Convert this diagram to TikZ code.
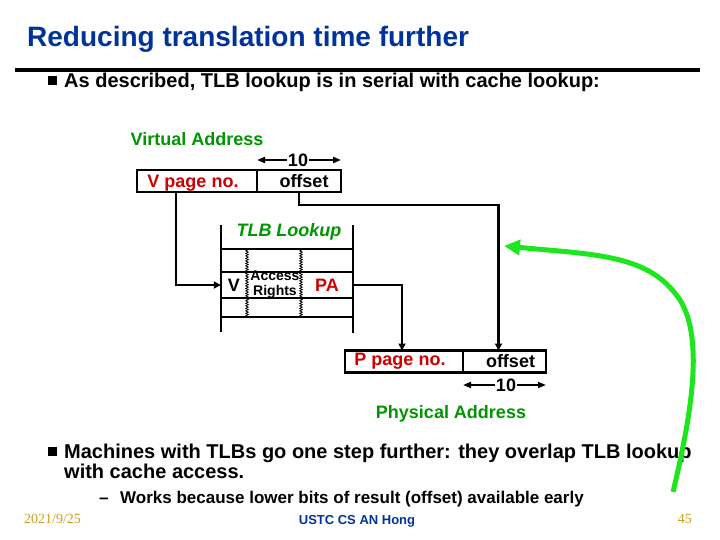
\documentclass[tikz,border=0pt]{standalone}
\usepackage{fontspec}
\setmainfont{Liberation Sans}
\newfontfamily\serifdate{Liberation Serif}
\usetikzlibrary{arrows.meta, positioning, decorations.pathmorphing}

\definecolor{titleblue}{RGB}{0,51,153}
\definecolor{labelgreen}{RGB}{0,150,0}
\definecolor{fieldred}{RGB}{204,0,0}
\definecolor{arrowgreen}{RGB}{30,230,30}
\definecolor{dategold}{RGB}{204,160,30}

\begin{document}
\begin{tikzpicture}[x=1pt, y=-1pt,
    field/.style={rectangle, draw=black, line width=2.4pt, outer sep=0pt, minimum height=22pt, inner sep=0pt, font=\fontsize{18}{18}\selectfont\bfseries},
    cell/.style={rectangle, inner sep=0pt, minimum height=26pt, font=\fontsize{18}{18}\selectfont\bfseries},
    tlbline/.style={line width=2.4pt},
    hatch/.style={decorate, decoration={zigzag, segment length=2.5pt, amplitude=1.3pt}, line width=0.7pt},
    line/.style={draw=black, line width=2.4pt, -{Triangle[length=7pt, width=7pt]}},
    dim/.style={draw=black, line width=1.8pt, -{Triangle[length=8pt, width=6pt]}},
    greenarrow/.style={draw=arrowgreen, line width=5pt, -{Triangle[length=16pt, width=15pt]}},
    label/.style={font=\fontsize{18}{18}\selectfont\bfseries, text=labelgreen},
    body/.style={font=\fontsize{20}{20}\selectfont\bfseries, anchor=base west, inner sep=0pt},
    bullet/.style={rectangle, fill=black, minimum size=9pt, inner sep=0pt}
]
    \useasboundingbox (0,0) rectangle (720,540);

    % Header
    \node[body, font=\fontsize{28}{28}\selectfont\bfseries, text=titleblue] (title) at (27,47) {Reducing translation time further};
    \draw[line width=4pt] (15,70) -- (700,70);
    \node[bullet] (b1) at (52,81) {};
    \node[body] (b1text) at (64,88) {As described, TLB lookup is in serial with cache lookup:};

    % Virtual address
    \node[label] (vlabel) at (197,139) {Virtual Address};
    \node[field, minimum width=120pt, text depth=0pt] (vpage) at (197,181) {\hspace*{-8pt}\textcolor{fieldred}{V page no.}};
    \node[field, minimum width=84pt, right=0pt of vpage] (voff) {\hspace*{10pt}offset};
    \node[font=\fontsize{18}{18}\selectfont\bfseries, inner sep=1pt] (vten) at (298,160) {10};
    \draw[dim] (vten.west) -- (vten.west -| voff.west);
    \draw[dim] (vten.east) -- (vten.east -| voff.east);

    % TLB
    \node[label, font=\fontsize{18}{18}\selectfont\bfseries\itshape] (tlbtitle) at (289,232) {TLB Lookup};
    \node[cell, minimum width=26pt] (vcell) at (234,285) {V};
    \node[cell, minimum width=54pt, align=center, font=\fontsize{14}{15}\selectfont\bfseries] (rights) at (275,285) {Access\\Rights};
    \node[cell, minimum width=52pt, text=fieldred] (pacell) at (327,285) {PA};
    \draw[tlbline] (221,225) -- (221,332);
    \draw[tlbline] (353,225) -- (353,333);
    \foreach \y in {249,272,298,317}
        \draw[tlbline] (221,\y) -- (353,\y);
    \foreach \x in {247,301}
        \draw[hatch] (\x,249) -- (\x,317);

    % Physical address
    \node[field, minimum width=118pt] (ppage) at (404,361.5) {\hspace*{-8pt}\textcolor{fieldred}{P page no.}};
    \node[field, minimum width=83pt, right=0pt of ppage] (poff) {\hspace*{12pt}offset};
    \node[font=\fontsize{18}{18}\selectfont\bfseries, inner sep=1pt] (pten) at (506,385) {10};
    \draw[dim] (pten.west) -- (pten.west -| poff.west);
    \draw[dim] (pten.east) -- (pten.east -| poff.east);
    \node[label] (plabel) at (451,414) {Physical Address};

    % Connections
    \draw[line] ([xshift=-21pt]vpage.south) |- (vcell.west);
    \draw[line] (voff.south) -- ++(0,13) -| ([xshift=-6pt]poff.north);
    \draw[line] (pacell.east) -| ([xshift=-2pt]ppage.north);

    % Bottom text
    \node[bullet] (b2) at (52,451) {};
    \node[body] (b2text) at (64,458) {Machines with TLBs go one step further: they overlap TLB lookup};
    \node[body] (b2more) at (64,478) {with cache access.};
    \node[body, font=\fontsize{17}{17}\selectfont\bfseries] (dash) at (99,503) {--};
    \node[body, font=\fontsize{17}{17}\selectfont\bfseries] (sub) at (120,503) {Works because lower bits of result (offset) available early};

    % Footer
    \node[body, font=\serifdate\fontsize{14}{14}\selectfont, text=dategold] (date) at (24,523) {2021/9/25};
    \node[font=\fontsize{13}{13}\selectfont\bfseries, text=titleblue] (author) at (357,521) {USTC CS AN Hong};
    \node[body, anchor=base east, font=\serifdate\fontsize{14}{14}\selectfont, text=dategold] (page) at (692,523) {45};

    % Overlap hint
    \coordinate (gtail) at (673,492);
    \coordinate (gtip) at (504,246);
    \draw[greenarrow] (gtail) .. controls (690,420) and (705,340) .. (680,300) .. controls (650,255) and (600,255) .. (gtip);
\end{tikzpicture}
\end{document}
